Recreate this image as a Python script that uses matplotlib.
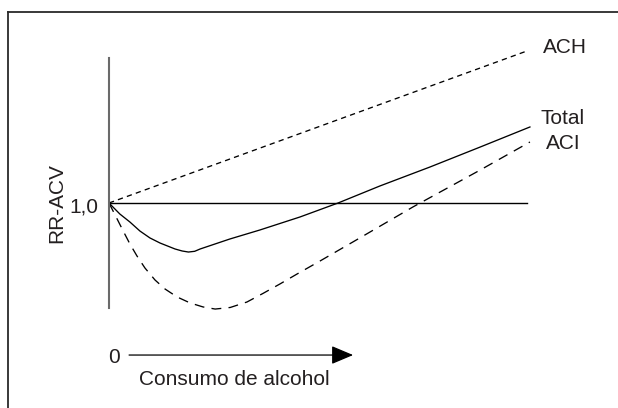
import matplotlib
matplotlib.use("Agg")
import matplotlib.pyplot as plt
from matplotlib.lines import Line2D

plt.rcParams['font.family'] = ['Liberation Sans', 'DejaVu Sans']

# ---- data (schematic) ----
x_total = [0, 0.26, 0.50, 0.74, 0.98, 1.22, 1.58, 1.75, 1.90, 2.05, 2.18, 2.89, 3.61, 4.57, 5.48, 6.48, 7.68, 8.88, 10.07]
y_total = [1.0, 0.895, 0.819, 0.733, 0.667, 0.619, 0.562, 0.543, 0.533, 0.540, 0.562, 0.657, 0.743, 0.867, 1.0, 1.162, 1.343, 1.533, 1.724]

x_aci = [0, 0.17, 0.34, 0.50, 0.67, 0.86, 1.10, 1.34, 1.63, 1.94, 2.25, 2.54, 2.90, 3.30, 3.68, 4.09, 4.50, 5.05, 6.00, 7.27, 8.88, 10.07]
y_aci = [1.0, 0.867, 0.733, 0.610, 0.495, 0.381, 0.267, 0.181, 0.105, 0.048, 0.010, -0.010, 0.005, 0.057, 0.138, 0.229, 0.324, 0.448, 0.667, 0.962, 1.314, 1.581]

x_ach = [0, 10.0]
y_ach = [1.0, 2.448]

ref_level = 1.0
series_labels = ["ACH", "Total", "ACI"]
ylabel = "RR-ACV"
ref_label = "1,0"
xlabel = "Consumo de alcohol"
zero_label = "0"

# ---- figure ----
W, H = 618, 408
fig = plt.figure(figsize=(W / 100, H / 100), dpi=100)
fig.patch.set_facecolor("white")

# frame (left and top only visible)
fig.add_artist(Line2D([8 / W, 8 / W], [0, 1 - 12 / H], color="#2a2a2a", lw=1.3, transform=fig.transFigure))
fig.add_artist(Line2D([8 / W, 1], [1 - 12 / H, 1 - 12 / H], color="#2a2a2a", lw=1.3, transform=fig.transFigure))

left_px, right_px, top_px, bot_px = 109, 527, 58, 308
ax = fig.add_axes([left_px / W, (H - bot_px) / H, (right_px - left_px) / W, (bot_px - top_px) / H])
ax.set_xlim(0, 10)
ax.set_ylim(0, 1 + (203 - top_px) / 105)
ax.set_facecolor("none")
for s in ["top", "right", "bottom"]:
    ax.spines[s].set_visible(False)
ax.spines["left"].set_color("#6a6a6a")
ax.spines["left"].set_linewidth(1.5)
ax.set_xticks([])
ax.set_yticks([])

txt = "#231f20"
lw = 0.95

ax.axhline(ref_level, xmin=0, xmax=1, color="black", lw=1.0, clip_on=False)
ax.plot(x_ach, y_ach, color="black", lw=lw, linestyle=(0, (4, 3.2)), clip_on=False)
ax.plot(x_total, y_total, color="black", lw=lw, clip_on=False)
ax.plot(x_aci, y_aci, color="black", lw=lw, linestyle=(0, (7.5, 5.5)), clip_on=False)

fs = 15
ax.text(10.9, 2.429, series_labels[0], ha="center", va="baseline", fontsize=fs, color=txt)
ax.text(10.86, 1.752, series_labels[1], ha="center", va="baseline", fontsize=fs, color=txt)
ax.text(10.86, 1.514, series_labels[2], ha="center", va="baseline", fontsize=fs, color=txt)

ax.text(-0.26, 0.905, ref_label, ha="right", va="baseline", fontsize=fs, color=txt)
ax.text(-1.25, 1.0, ylabel, ha="center", va="center", rotation=90, fontsize=fs, color=txt)

# x-axis arrow below
ax.text(0.12, -0.524, zero_label, ha="center", va="baseline", fontsize=fs, color=txt, clip_on=False)
ax.annotate("", xy=(5.84, -0.448), xytext=(0.48, -0.448),
            arrowprops=dict(arrowstyle="-|>,head_length=0.9,head_width=0.38", color="black",
                            lw=0.9, mutation_scale=15, shrinkA=0, shrinkB=0),
            annotation_clip=False)
ax.text(3.0, -0.733, xlabel, ha="center", va="baseline", fontsize=fs, color=txt)

fig.savefig("out.png", dpi=100, facecolor="white")
